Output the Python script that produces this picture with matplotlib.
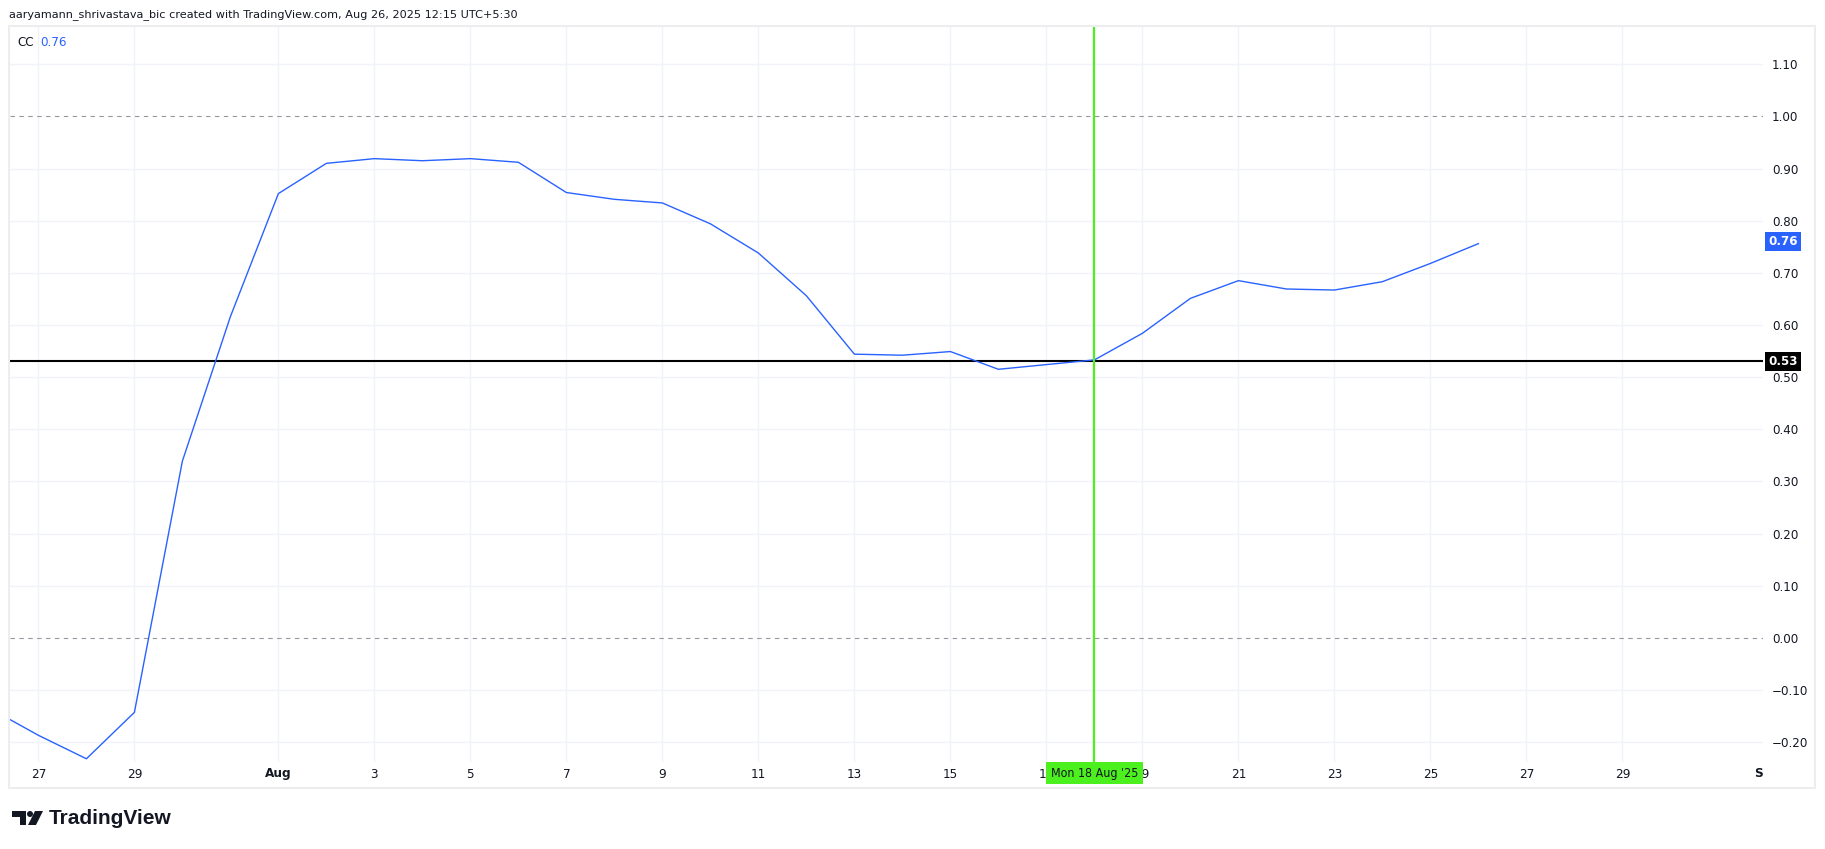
import matplotlib
matplotlib.use("Agg")
import matplotlib.pyplot as plt
import matplotlib.patches as mpatches
from matplotlib import font_manager
from matplotlib.transforms import Bbox, TransformedBbox, blended_transform_factory
import pandas as pd

# ---------------- data ----------------
dates = pd.date_range("2025-07-26", "2025-08-26", freq="D")
cc_values = [-0.136, -0.187, -0.232, -0.143, 0.339, 0.616, 0.852, 0.910, 0.919, 0.915,
             0.919, 0.912, 0.854, 0.841, 0.834, 0.794, 0.738, 0.656, 0.544, 0.542,
             0.549, 0.515, 0.524, 0.533, 0.584, 0.651, 0.685, 0.669, 0.667, 0.683,
             0.718, 0.756]
tick_dates = ["2025-07-27", "2025-07-29", "2025-08-01", "2025-08-03", "2025-08-05",
              "2025-08-07", "2025-08-09", "2025-08-11", "2025-08-13", "2025-08-15",
              "2025-08-17", "2025-08-19", "2025-08-21", "2025-08-23", "2025-08-25",
              "2025-08-27", "2025-08-29", "2025-09-01"]
tick_labels = ["27", "29", "Aug", "3", "5", "7", "9", "11", "13", "15", "17", "19",
               "21", "23", "25", "27", "29", "Sep"]
price_ticks = [-0.2, -0.1, 0.0, 0.1, 0.2, 0.3, 0.4, 0.5, 0.6, 0.7, 0.8, 0.9, 1.0, 1.1]
dashed_levels = [1.0, 0.0]
hline_level = 0.53
last_value = 0.76
cursor_date = "2025-08-18"
cursor_label = "Mon 18 Aug '25"
title_text = "aaryamann_shrivastava_bic created with TradingView.com, Aug 26, 2025 12:15 UTC+5:30"
series_name = "CC"

# ---------------- fonts ----------------
avail = {f.name for f in font_manager.fontManager.ttflist}
def pick(*names):
    for n in names:
        if n in avail:
            return n
    return "DejaVu Sans"
narrow = pick("Liberation Sans Narrow", "DejaVu Sans")
sans = pick("DejaVu Sans")
logo_font = pick("Liberation Sans Narrow", "Liberation Sans", "DejaVu Sans")

# ---------------- layout ----------------
W, H = 1825, 849
fig = plt.figure(figsize=(W / 100, H / 100), dpi=100)
fig.patch.set_facecolor("white")

def fx(x):
    return x / W
def fy(y):
    return 1 - y / H

pl, pr, pt, pb = 9.5, 1763, 26, 762
ax = fig.add_axes([fx(pl), fy(pb), (pr - pl) / W, (pb - pt) / H])

x0 = pd.Timestamp("2025-07-27")
day_px = 48.0
xmin = x0 + pd.Timedelta(days=(pl - 38.4) / day_px)
xmax = x0 + pd.Timedelta(days=(pr - 38.4) / day_px)
ax.set_xlim(xmin, xmax)
ax.set_ylim(-0.2382, 1.1734)

for s in ax.spines.values():
    s.set_visible(False)

grid_col = "#F0F3FA"
for v in price_ticks:
    if v in dashed_levels:
        continue
    ax.axhline(v, color=grid_col, lw=1.0, zorder=0)
tick_ts = pd.to_datetime(tick_dates)
for t in tick_ts:
    ax.axvline(t, color=grid_col, lw=1.0, zorder=0)

for v in dashed_levels:
    ax.axhline(v, color="#9598A1", lw=0.8, linestyle=(0, (4, 4)), zorder=1)

ax.axhline(hline_level, color="black", lw=1.5, zorder=3)

ax.plot(dates, cc_values, color="#2962FF", lw=1.0, zorder=4, solid_joinstyle="round")

cursor_ts = pd.Timestamp(cursor_date)
ax.axvline(cursor_ts, color="#4CF01F", lw=1.6, zorder=5)

# y ticks on right
ax.yaxis.tick_right()
ax.set_yticks(price_ticks)
ax.set_yticklabels(["\u2212%.2f" % abs(v) if v < 0 else "%.2f" % v for v in price_ticks])
ax.tick_params(axis="y", length=0, pad=6.5, labelsize=8.6, labelcolor="#131722")
for lbl in ax.get_yticklabels():
    lbl.set_fontfamily(sans)
ax.set_xticks([])

# time axis labels (clipped to plot width)
tr = blended_transform_factory(ax.transData, fig.transFigure)
clipbox = TransformedBbox(Bbox([[fx(pl), fy(790)], [fx(pr), fy(pb)]]), fig.transFigure)
for t, lab in zip(tick_ts, tick_labels):
    txt = ax.text(t, fy(774), lab, transform=tr, ha="center", va="center",
                  fontsize=9.6, family=narrow, fontstretch="condensed", color="#131722",
                  fontweight="bold" if lab in ("Aug", "Sep") else "normal",
                  clip_on=True, zorder=2)
    txt.set_clip_box(clipbox)

# cursor date label
ax.text(cursor_ts, fy(773), cursor_label, transform=tr, ha="center", va="center",
        fontsize=8.9, family=narrow, fontstretch="condensed", color="#131722", zorder=20,
        clip_on=False, bbox=dict(boxstyle="square,pad=0.38", fc="#4CF01F", ec="none"))

# price labels
trp = blended_transform_factory(fig.transFigure, ax.transData)
ax.text(fx(1783), last_value, "%.2f" % last_value, transform=trp, ha="center", va="center",
        fontsize=8.6, family=sans, color="white", fontweight="bold", zorder=20, clip_on=False,
        bbox=dict(boxstyle="square,pad=0.25", fc="#2962FF", ec="none"))
ax.text(fx(1783), hline_level, "%.2f" % hline_level, transform=trp, ha="center", va="center",
        fontsize=8.6, family=sans, color="white", fontweight="bold", zorder=20, clip_on=False,
        bbox=dict(boxstyle="square,pad=0.25", fc="black", ec="none"))

# legend
fig.text(fx(17), fy(42), series_name, fontsize=8.6, family=sans, color="#131722", va="center")
fig.text(fx(40), fy(42), "%.2f" % last_value, fontsize=8.6, family=sans, color="#2962FF", va="center")

# title
fig.text(fx(9), fy(15), title_text, fontsize=8.1, family=sans, color="#131722", va="center")

# outer frame
frame = mpatches.Rectangle((fx(9), fy(788)), fx(1815) - fx(9), fy(26) - fy(788),
                           transform=fig.transFigure, fill=False, ec="#ECEDEF", lw=1.5)
fig.patches.append(frame)

# logo
def poly(pts, **kw):
    p = mpatches.Polygon([(fx(a), fy(b)) for a, b in pts], closed=True,
                         transform=fig.transFigure, fc="#131722", ec="none", **kw)
    fig.patches.append(p)
poly([(12, 811), (26, 811), (26, 825), (20, 825), (20, 817), (12, 817)])
circ = mpatches.Ellipse((fx(30), fy(814)), 6 / W, 6 / H, transform=fig.transFigure,
                        fc="#131722", ec="none")
fig.patches.append(circ)
poly([(35, 811), (43, 811), (36, 825), (28, 825)])
fig.text(fx(49), fy(819), "TradingView", fontsize=15, family=logo_font, fontweight="bold",
         color="#131722", va="center")

fig.savefig("out.png", dpi=100, facecolor="white")
